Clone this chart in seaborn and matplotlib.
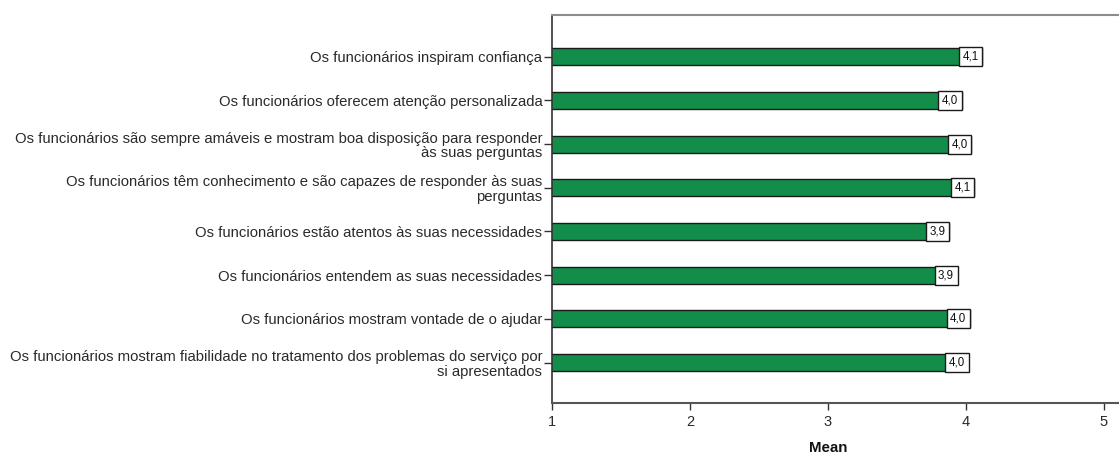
import matplotlib
matplotlib.use("Agg")
import matplotlib.pyplot as plt
import seaborn as sns
import pandas as pd

# itens (de cima para baixo) e médias
itens = [
    "Os funcionários inspiram confiança",
    "Os funcionários oferecem atenção personalizada",
    "Os funcionários são sempre amáveis e mostram boa disposição para responder\nàs suas perguntas",
    "Os funcionários têm conhecimento e são capazes de responder às suas\nperguntas",
    "Os funcionários estão atentos às suas necessidades",
    "Os funcionários entendem as suas necessidades",
    "Os funcionários mostram vontade de o ajudar",
    "Os funcionários mostram fiabilidade no tratamento dos problemas do serviço por\nsi apresentados",
]
medias = [4.12, 3.97, 4.04, 4.06, 3.88, 3.94, 4.03, 4.02]
xticks = [1, 2, 3, 4, 5]

df = pd.DataFrame({"item": itens, "mean": medias})

sns.set_style("white")
plt.rcParams["font.family"] = ["Liberation Sans", "DejaVu Sans"]

fig = plt.figure(figsize=(11.19, 4.58), dpi=100)
ax = fig.add_axes([552 / 1119, 1 - 402.7 / 458, (1119 - 552) / 1119, (402.7 - 15) / 458])

sns.barplot(data=df, x="mean", y="item", orient="h", color="#138d4a",
            edgecolor="#1a1a1a", linewidth=1.0, width=0.39, saturation=1, ax=ax)

ax.set_xlim(1, 5.112)
ax.set_ylim(7.92, -0.954)
ax.set_xticks(xticks)
ax.set_xticklabels([str(t) for t in xticks], fontsize=10.5, color="#2a2a2a")
ax.tick_params(axis="y", length=6, width=1, color="#333333", pad=1, labelsize=10.75, labelcolor="#2a2a2a")
ax.tick_params(axis="x", length=5, width=1, color="#333333", pad=4, direction="out")
ax.tick_params(left=True, bottom=True)
for lab in ax.get_yticklabels():
    lab.set_linespacing(1.05)

ax.set_ylabel("")
ax.set_xlabel("Mean", fontsize=10.8, fontweight="bold", color="#111111")
ax.xaxis.set_label_coords((828 - 552) / (1119 - 552), -0.1)

ax.spines["right"].set_visible(False)
ax.spines["top"].set_color("#8c8c8c")
ax.spines["top"].set_linewidth(1.5)
ax.spines["left"].set_color("#333333")
ax.spines["left"].set_linewidth(1.2)
ax.spines["bottom"].set_color("#555555")
ax.spines["bottom"].set_linewidth(1.5)

# rótulos de valor em caixa no fim da barra
for i, v in enumerate(medias):
    ax.annotate(f"{v:.1f}".replace(".", ","), xy=(v, i), xytext=(-2.4, 0),
                textcoords="offset points", ha="right", va="center",
                fontsize=8.3, color="#111111",
                bbox=dict(boxstyle="square,pad=0.3", fc="white", ec="#1a1a1a", lw=1.0))

fig.savefig("out.png", dpi=100)
